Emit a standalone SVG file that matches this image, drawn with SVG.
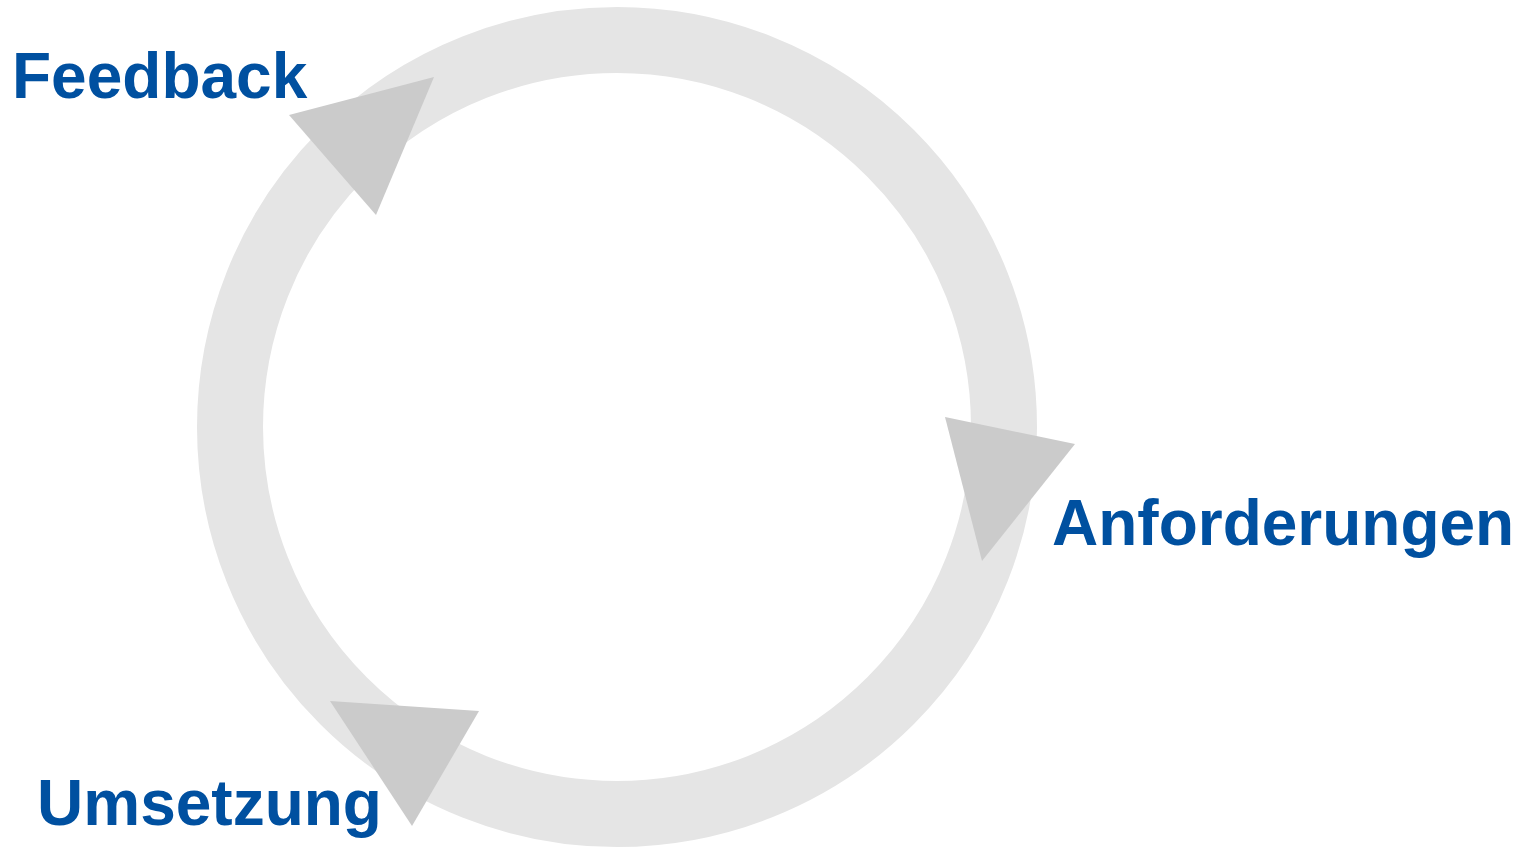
<svg xmlns="http://www.w3.org/2000/svg" width="1532" height="847" viewBox="0 0 1532 847">
<style>
.ring{fill:none;stroke:#e5e5e5;stroke-width:66}
.head{fill:#cbcbcb}
.lbl{font-family:"Liberation Sans",Arial,sans-serif;font-weight:bold;font-size:64px;fill:#0050a0}
</style>
<rect width="1532" height="847" fill="#ffffff"/>
<g id="connectors">
<circle class="ring" cx="617" cy="427" r="387"/>
<polygon class="head" points="289,115 434,77 376,215"/>
<polygon class="head" points="945,417 1075,444 982,561"/>
<polygon class="head" points="330,701 479,711 412,826"/>
</g>
<g id="feedback"><text class="lbl" x="12" y="98">Feedback</text></g>
<g id="anforderungen"><text class="lbl" x="1052" y="545">Anforderungen</text></g>
<g id="umsetzung"><text class="lbl" x="37" y="825">Umsetzung</text></g>
</svg>
